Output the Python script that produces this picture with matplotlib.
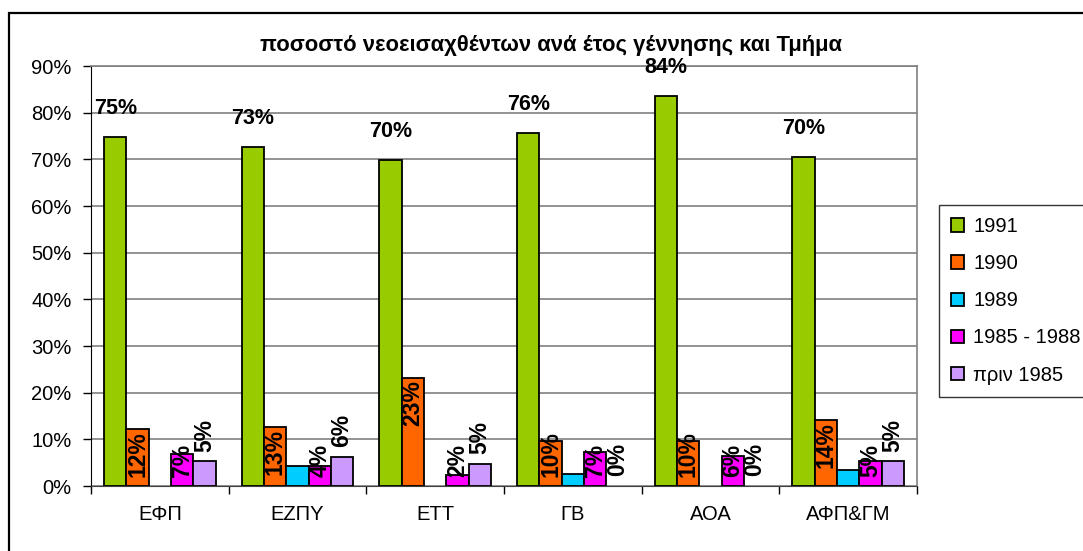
import matplotlib
matplotlib.use("Agg")
import matplotlib.pyplot as plt
import numpy as np
from matplotlib.patches import Rectangle

plt.rcParams['font.family'] = ['Liberation Sans', 'DejaVu Sans']

# categories and series (percent)
tmimata = ["ΕΦΠ", "ΕΖΠΥ", "ΕΤΤ", "ΓΒ", "ΑΟΑ", "ΑΦΠ&ΓΜ"]
seires = ["1991", "1990", "1989", "1985 - 1988", "πριν 1985"]
v1991 = [74.8, 72.7, 69.9, 75.7, 83.6, 70.4]
v1990 = [12.2, 12.6, 23.1, 9.7, 9.7, 14.2]
v1989 = [0, 4.2, 0, 2.5, 0, 3.4]
v1985_88 = [6.8, 4.3, 2.4, 7.3, 6.4, 5.4]
v_prin85 = [5.3, 6.2, 4.7, 0, 0, 5.3]
xromata = ["#99CC00", "#FF6600", "#00CCFF", "#FF00FF", "#CC99FF"]

values = [v1991, v1990, v1989, v1985_88, v_prin85]

fig = plt.figure(figsize=(10.83, 5.51), dpi=100)
ax = fig.add_axes([91 / 1083, 65 / 551, 826 / 1083, 420 / 551])

x = np.arange(len(tmimata))
w = 0.162
bars = []
for i, (name, vals, c) in enumerate(zip(seires, values, xromata)):
    pos = x + (i - 2) * w
    heights = [v if v > 0 else np.nan for v in vals]
    b = ax.bar(pos, heights, w, color=c, edgecolor="black", linewidth=1.3,
               label=name, zorder=3)
    bars.append(b)

ax.set_xlim(-0.5, len(tmimata) - 0.5)
ax.set_ylim(0, 90)
ax.set_yticks(np.arange(0, 91, 10))
ax.set_yticklabels([f"{t}%" for t in range(0, 91, 10)], fontsize=14.5)
ax.yaxis.grid(True, color="#808080", linewidth=1.2, zorder=0)
ax.tick_params(axis="y", direction="out", length=6, width=1, pad=8)

ax.set_xticks(np.arange(-0.5, len(tmimata), 1))
ax.set_xticklabels([])
ax.tick_params(axis="x", which="major", direction="out", length=6, width=1)
ax.set_xticks(x, minor=True)
ax.set_xticklabels(tmimata, minor=True, fontsize=14.5)
ax.tick_params(axis="x", which="minor", length=0, pad=14)

for s in ["top", "right"]:
    ax.spines[s].set_color("#808080")
    ax.spines[s].set_linewidth(1.2)
ax.spines["left"].set_color("black")
ax.spines["bottom"].set_color("#404040")

# data labels
lbl_kw = dict(fontweight="bold", color="black", zorder=5)
for xi, v in zip(x - 2 * w, v1991):
    ax.annotate(f"{round(v)}%", (xi, v), xytext=(0, 13), textcoords="offset points",
                ha="center", va="bottom", fontsize=15.5, **lbl_kw)

fig.canvas.draw()
r = fig.canvas.get_renderer()
y_axis0 = ax.transData.transform((0, 0))[1]
for i in (1, 3):
    for xi, v in zip(x + (i - 2) * w, values[i]):
        t = ax.annotate(f"{round(v)}%", (xi, v), xytext=(0, -1.5), textcoords="offset points",
                        ha="center", va="top", rotation=90, fontsize=16.5, **lbl_kw)
        bb = t.get_window_extent(r)
        if bb.y0 < y_axis0 + 9:
            t.xy = (xi, 0)
            t.set_va("bottom")
            t.xyann = (0, 9 * 0.72)
for xi, v in zip(x + 2 * w, v_prin85):
    ax.annotate(f"{round(v)}%", (xi, v), xytext=(0, 7), textcoords="offset points",
                ha="center", va="bottom", rotation=90, fontsize=16.5, **lbl_kw)

fig.text(551 / 1083, 1 - 45 / 551, "ποσοστό νεοεισαχθέντων ανά έτος γέννησης και Τμήμα",
         ha="center", va="center", fontsize=15.8, fontweight="bold")

leg = fig.legend(handles=bars, labels=seires, loc="upper left",
                 bbox_to_anchor=(939 / 1083, 1 - 205 / 551), fontsize=14.5,
                 frameon=True, fancybox=False, borderaxespad=0, borderpad=0.6,
                 labelspacing=0.9, handlelength=0.65, handleheight=0.65,
                 handletextpad=0.45)
leg.get_frame().set_edgecolor("black")
leg.get_frame().set_linewidth(1.0)

# outer chart border (left and top visible)
fig.add_artist(Rectangle((9 / 1083, -0.1), 1.2, 1 - 13 / 551 + 0.1,
                         transform=fig.transFigure, fill=False,
                         edgecolor="black", linewidth=1.6))

fig.savefig("out.png", dpi=100)
